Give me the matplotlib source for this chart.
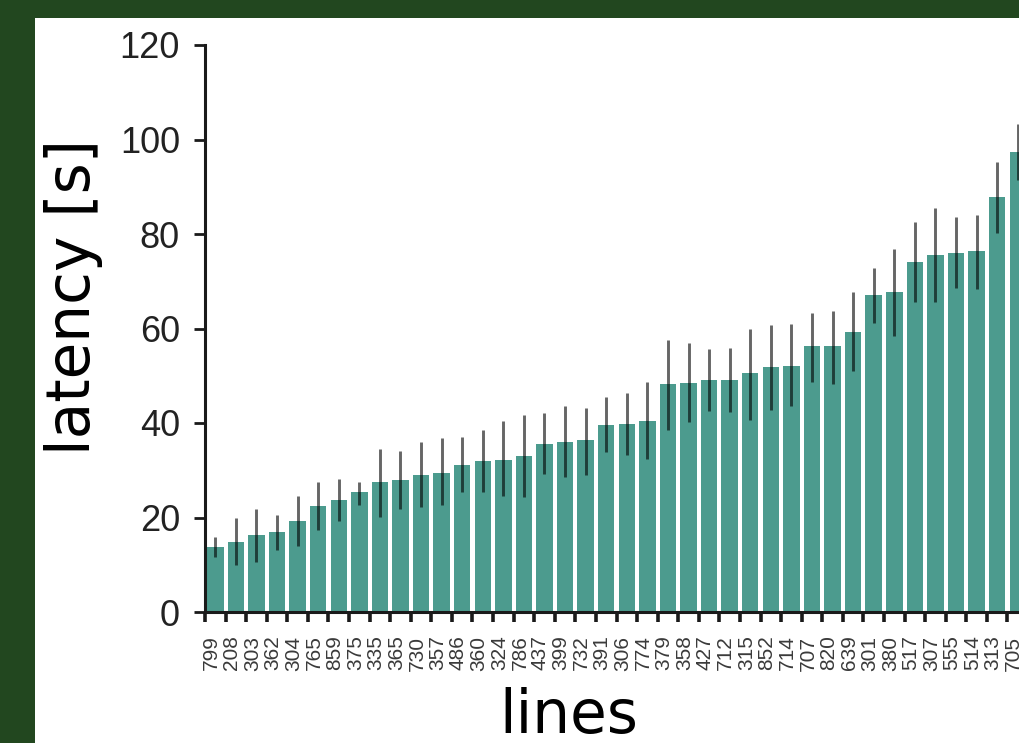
import numpy as np
import matplotlib
matplotlib.use("Agg")
import matplotlib.pyplot as plt
from matplotlib.patches import Rectangle
from matplotlib.transforms import ScaledTranslation

lines = ['799', '208', '303', '362', '304', '765', '859', '375', '335', '365',
         '730', '357', '486', '360', '324', '786', '437', '399', '732', '391',
         '306', '774', '379', '358', '427', '712', '315', '852', '714', '707',
         '820', '639', '301', '380', '517', '307', '555', '514', '313', '705']

latency = [13.8, 14.9, 16.3, 16.9, 19.3, 22.5, 23.7, 25.3, 27.6, 27.9,
           29.1, 29.5, 31.1, 32.0, 32.2, 33.1, 35.6, 36.0, 36.4, 39.6,
           39.7, 40.4, 48.2, 48.5, 49.2, 49.2, 50.6, 51.8, 52.1, 56.3,
           56.3, 59.2, 67.0, 67.8, 74.0, 75.6, 76.0, 76.5, 87.9, 97.4]

err_low = [11.6, 9.9, 10.6, 13.1, 14.0, 17.4, 19.3, 22.6, 20.2, 21.9,
           22.3, 22.6, 25.3, 25.5, 24.5, 24.4, 29.2, 28.6, 29.1, 33.9,
           33.2, 32.3, 38.5, 40.3, 42.6, 42.4, 40.6, 42.8, 43.5, 48.6,
           48.3, 51.0, 61.2, 58.5, 65.7, 65.7, 68.6, 68.4, 80.3, 91.4]

err_high = [15.8, 19.8, 21.9, 20.5, 24.5, 27.6, 28.1, 27.6, 34.6, 34.1,
            36.0, 36.8, 37.0, 38.5, 40.4, 41.7, 42.1, 43.5, 43.1, 45.4,
            46.3, 48.7, 57.6, 57.0, 55.6, 55.8, 59.8, 60.7, 60.9, 63.3,
            63.6, 67.7, 72.9, 76.8, 82.6, 85.6, 83.5, 84.0, 95.3, 103.3]

yticks = [0, 20, 40, 60, 80, 100, 120]

W, H = 1020, 743
fig = plt.figure(figsize=(W / 100, H / 100), dpi=100, facecolor="#22471f")
# white panel (dark frame on top and left)
fig.patches.append(Rectangle((35 / W, 0), 1 - 35 / W, 1 - 18 / H,
                             transform=fig.transFigure, facecolor="white",
                             edgecolor="none", zorder=-1))

ax = fig.add_axes([205 / W, (H - 612) / H, 1 - 205 / W, 567 / H])
ax.set_facecolor("none")

x = np.arange(len(lines))
ax.bar(x, latency, width=0.8, color="#4c9b8e", zorder=2)
ax.vlines(x, err_low, err_high, color="black", alpha=0.6, linewidth=2.1, zorder=3)

ax.set_xlim(-0.5, 39.11)
ax.set_ylim(0, 120)

for s in ["top", "right"]:
    ax.spines[s].set_visible(False)
for s in ["left", "bottom"]:
    ax.spines[s].set_linewidth(2.2)
    ax.spines[s].set_color("#1a1a1a")

ax.set_yticks(yticks)
ax.set_yticklabels([str(v) for v in yticks], family="Liberation Sans",
                   fontsize=26, color="#222222")
ax.tick_params(axis="y", length=8, width=2.0, pad=10, color="#1a1a1a")

ax.set_xticks(x)
ax.set_xticklabels(lines, rotation=90, family="Liberation Sans",
                   fontsize=15, color="#3a3a3a")
ax.set_xticks(x - 0.5, minor=True)
ax.tick_params(axis="x", which="major", length=0, pad=17)
ax.tick_params(axis="x", which="minor", length=7, width=2.6, color="#1a1a1a")
for lab in ax.get_xticklabels():
    lab.set_transform(lab.get_transform() + ScaledTranslation(-4 / 100, 0, fig.dpi_scale_trans))

ax.set_ylabel("latency [s]", family="DejaVu Sans", fontsize=43)
ax.yaxis.set_label_coords(-0.125, 0.555)
ax.set_xlabel("lines", family="DejaVu Sans", fontsize=43)
ax.xaxis.set_label_coords(0.447, -0.133)

fig.savefig("out.png", dpi=100, facecolor=fig.get_facecolor())
